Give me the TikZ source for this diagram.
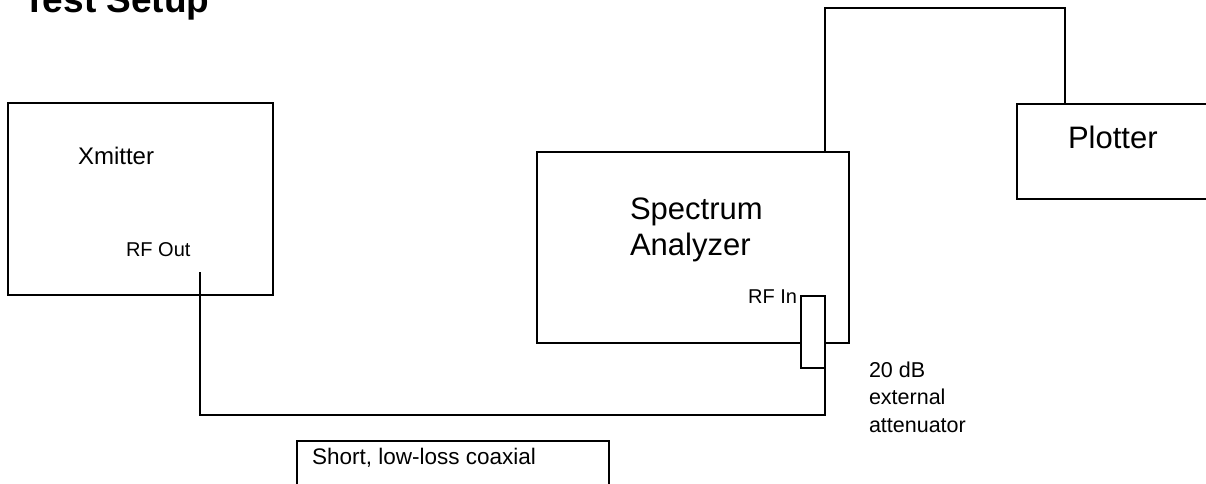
\documentclass[tikz,border=0pt]{standalone}
\usepackage{fontspec}
\setmainfont{Liberation Sans}
\begin{document}
\begin{tikzpicture}[x=1pt,y=-1pt,
  box/.style={draw,line width=1.5pt,inner sep=0pt,outer sep=0pt,anchor=north west},
  wire/.style={line width=1.5pt},
  lbl/.style={inner sep=0pt,outer sep=0pt,anchor=base west,align=left}]
\useasboundingbox (0,0) rectangle (1206,484);
\clip (0,0) rectangle (1206,484);
% title
\node[lbl,font=\fontsize{37}{44}\selectfont\bfseries] (title) at (23,13) {Test Setup};
% boxes
\node[box,minimum width=265pt,minimum height=192pt] (xmit) at (8,103) {};
\node[box,minimum width=312pt,minimum height=191pt] (sa) at (537,152) {};
\node[box,minimum width=200pt,minimum height=95pt] (plot) at (1017,104) {};
\node[box,minimum width=312pt,minimum height=60pt] (coax) at (297,441) {};
% ports
\coordinate (rfout) at (200,272);
\coordinate (saport) at (825,152);
\coordinate (plotport) at (1065,104);
% connectors
\draw[wire] (saport) |- (1065,8) -- (plotport);
\node[box,fill=white,minimum width=24pt,minimum height=72pt] (att) at (801,296) {};
\draw[wire] (rfout) |- (825,415) -- (att.south east);
% labels
\node[lbl,font=\fontsize{24}{28}\selectfont] (xmitlbl) at (78,164) {Xmitter};
\node[lbl,font=\fontsize{20}{24}\selectfont] (rfoutlbl) at (126,256) {RF Out};
\node[lbl,anchor=base east,font=\fontsize{20}{24}\selectfont] (rfinlbl) at (797,303) {RF In};
\node[lbl,font=\fontsize{31}{36}\selectfont] (salbl) at (630,255) {Spectrum\\Analyzer};
\node[lbl,font=\fontsize{31}{36}\selectfont] (plotlbl) at (1068,148) {Plotter};
\node[lbl,font=\fontsize{21.5}{27.5}\selectfont] (attlbl) at (869,432) {20 dB\\external\\attenuator};
\node[lbl,font=\fontsize{22.5}{26}\selectfont] (coaxlbl) at (312,464) {Short, low-loss coaxial};
\end{tikzpicture}
\end{document}
